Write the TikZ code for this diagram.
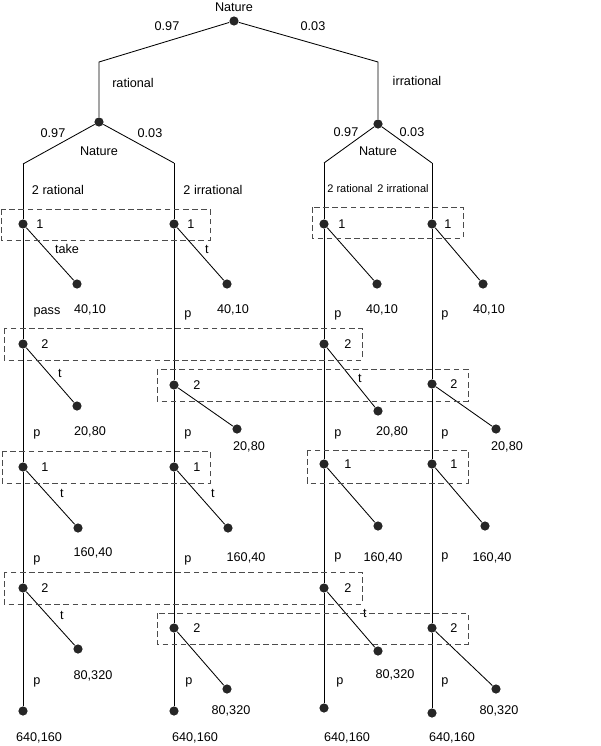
\documentclass[tikz,border=0pt]{standalone}
\usepackage{fontspec}
\setmainfont{Liberation Sans}
\begin{document}
\begin{tikzpicture}[x=0.25mm, y=-0.25mm, line width=0.6pt,
    every node/.style={font=\fontsize{9}{10}\selectfont, inner sep=1pt},
    dot/.style={circle, fill=black!85, minimum size=2.3mm, inner sep=0pt},
    infoset/.style={draw=black!70, dash pattern=on 4pt off 2.5pt, line width=0.6pt},
    smalltext/.style={font=\fontsize{7.8}{9}\selectfont}]

    \useasboundingbox (0,0) rectangle (600,746);

    % =====================================================
    % Nature moves
    % =====================================================
    \node[dot] (root) at (234,21) {};
    \node (root-lbl) at (234,7) {Nature};

    \coordinate (kL) at (99,62);
    \coordinate (kR) at (378,62);
    \node[dot] (natL) at (99,122) {};
    \node[dot] (natR) at (378,124) {};
    \draw (root) -- (kL) -- (natL);
    \draw (root) -- (kR) -- (natR);

    \node (pL) at (167,26) {0.97};
    \node (pR) at (313,26) {0.03};
    \node (rat) at (133,83) {rational};
    \node (irr) at (417,81) {irrational};

    \node (natL-lbl) at (99,151) {Nature};
    \node (natL-p1) at (53,133) {0.97};
    \node (natL-p2) at (150,133) {0.03};
    \node (natR-lbl) at (378,151) {Nature};
    \node (natR-p1) at (346,132) {0.97};
    \node (natR-p2) at (412,132) {0.03};

    \coordinate (ka) at (23,164);
    \coordinate (kb) at (174,163);
    \coordinate (kc) at (324,163);
    \coordinate (kd) at (432,163);
    \draw (natL) -- (ka);
    \draw (natL) -- (kb);
    \draw (natR) -- (kc);
    \draw (natR) -- (kd);

    \node (ra) at (58,190) {2 rational};
    \node (rb) at (213,190) {2 irrational};
    \node[smalltext] (rc) at (350,189) {2 rational};
    \node[smalltext] (rd) at (403,189) {2 irrational};

    % =====================================================
    % Centipede columns
    % =====================================================
    \foreach \c/\x/\lst in {
        a/23/{1/224/1/17/77/284/90/310/{40,10}, 2/344/2/22/77/406/90/432/{20,80}, 3/467/1/22/78/528/93/553/{160,40}, 4/588/2/22/78/649/93/676/{80,320}},
        b/174/{1/224/1/17/227/284/233/310/{40,10}, 2/385/2/23/237/429/249/447/{20,80}, 3/467/1/23/228/528/246/558/{160,40}, 4/628/2/23/227/689/231/711/{80,320}},
        c/324/{1/224/1/18/377/284/382/310/{40,10}, 2/344/2/24/378/411/392/432/{20,80}, 3/464/1/24/378/526/383/558/{160,40}, 4/588/2/24/378/651/395/675/{80,320}},
        d/432/{1/224/1/16/483/284/489/310/{40,10}, 2/384/2/22/496/429/507/447/{20,80}, 3/464/1/22/485/526/492/558/{160,40}, 4/628/2/22/496/689/499/711/{80,320}}} {
        \foreach \i/\y/\pl/\lo/\tx/\ty/\px/\py/\pay in \lst {
            \node[dot] (\c\i) at (\x,\y) {};
            \path (\c\i) ++(\lo,0) node (pl-\c\i) {\pl};
            \node[dot] (t-\c\i) at (\tx,\ty) {};
            \draw (\c\i) -- (t-\c\i);
            \node (pay-\c\i) at (\px,\py) {\pay};
        }
    }

    % last nodes
    \node[dot] (a5) at (23,711) {};
    \node[dot] (b5) at (174,711) {};
    \node[dot] (c5) at (324,708) {};
    \node[dot] (d5) at (432,713) {};
    \foreach \c in {a,b,c,d} {
        \draw (k\c) -- (\c1) -- (\c2) -- (\c3) -- (\c4) -- (\c5);
    }

    \node (pay-a5) at (39,738) {640,160};
    \node (pay-b5) at (195,738) {640,160};
    \node (pay-c5) at (347,738) {640,160};
    \node (pay-d5) at (452,738) {640,160};

    % =====================================================
    % Action labels
    % =====================================================
    \node (take-a1) at (67,249) {take};
    \node (pass-a1) at (47,312) {pass};
    \foreach \n/\x/\y in {a2/60/373, a3/62/493, a4/62/615, b1/207/249, b3/213/493, c2/360/378, c4/365/613}
        \node (tl-\n) at (\x,\y) {t};
    \foreach \n/\x/\y in {a2/37/434, a3/37/560, a4/37/682,
                          b1/188/315, b2/188/434, b3/188/560, b4/189/682,
                          c1/338/315, c2/338/434, c3/338/557, c4/340/682,
                          d1/445/315, d2/445/434, d3/445/557, d4/445/682}
        \node (pl-\n-p) at (\x,\y) {p};

    % =====================================================
    % Information sets
    % =====================================================
    \draw[infoset] (1,209) rectangle (210,240);
    \draw[infoset] (312,207) rectangle (463,238);
    \draw[infoset] (4,328) rectangle (362,360);
    \draw[infoset] (157,369) rectangle (468,401);
    \draw[infoset] (2,451) rectangle (210,483);
    \draw[infoset] (307,450) rectangle (468,483);
    \draw[infoset] (4,572) rectangle (362,604);
    \draw[infoset] (157,613) rectangle (468,644);

\end{tikzpicture}
\end{document}
